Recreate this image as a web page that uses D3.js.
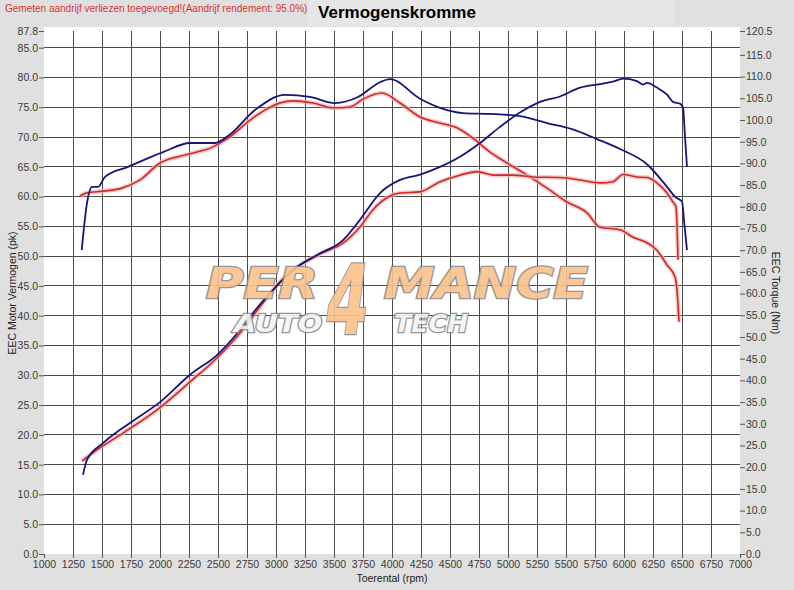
<!DOCTYPE html>
<html>
<head>
<meta charset="utf-8">
<script src="https://cdn.jsdelivr.net/npm/d3@7"></script>
<style>
  body { margin: 0; background: #e0e0e0; }
  svg { display: block; font-family: "Liberation Sans", Arial, sans-serif; }
</style>
</head>
<body>
<script>
// rpm / value pairs
const bluePowerRpm = [1336,1371,1509,1741,2000,2259,2491,2690,2836,2974,3147,3353,3578,3724,3897,4069,4241,4414,4586,4759,4931,5103,5276,5448,5621,5793,5905,5991,6112,6164,6198,6284,6371,6422,6483,6509,6526,6543];
const bluePowerPk  = [13.3,15.8,18.6,22.0,25.5,30.1,33.4,37.6,41.3,44.3,47.7,50.2,52.7,56.1,60.6,62.8,63.7,65.0,66.7,69.0,71.7,74.1,75.9,76.8,78.3,78.9,79.3,79.8,79.4,78.8,79.1,78.3,77.1,75.9,75.6,74.9,70.0,65.0];

const redPowerRpm = [1328,1422,1681,1974,2259,2491,2690,2862,3034,3207,3405,3578,3724,3836,3983,4069,4241,4414,4586,4733,4871,5043,5216,5448,5621,5793,5905,5991,6112,6198,6284,6371,6422,6448,6466];
const redPowerPk  = [15.6,17.0,20.3,24.2,28.9,32.9,37.1,41.5,45.7,48.5,50.6,52.2,54.9,57.8,60.1,60.6,60.8,62.5,63.6,64.2,63.6,63.6,63.3,63.2,62.8,62.3,62.5,63.7,63.3,63.2,62.3,60.6,59.1,58.3,49.4];

const blueTorqueRpm = [1325,1371,1414,1466,1526,1724,2026,2259,2474,2586,2819,3078,3293,3509,3707,3897,3983,4241,4414,4612,4845,5103,5336,5552,5767,5966,6198,6371,6440,6500,6517,6543];
const blueTorqueNm  = [70.0,80.9,84.6,84.6,86.9,89.2,92.6,94.7,94.7,96.3,102.3,105.8,105.3,103.9,105.3,108.7,109.4,104.9,102.8,101.6,101.4,100.9,99.3,97.9,95.6,93.3,89.8,84.6,82.3,81.2,77.0,70.0];

const redTorqueRpm = [1310,1371,1509,1672,1828,2000,2259,2457,2586,2802,3034,3147,3319,3491,3638,3750,3914,4069,4241,4414,4560,4698,4845,4991,5164,5336,5509,5681,5793,5966,6078,6198,6284,6371,6440,6457,6474];
const redTorqueNm  = [82.5,83.2,83.6,84.3,86.2,90.1,92.2,93.8,95.8,100.5,103.9,104.4,103.9,102.8,103.0,104.8,106.2,103.9,100.7,99.3,98.2,95.8,92.6,90.1,87.3,84.3,81.1,78.6,75.3,74.7,73.0,71.7,70.0,66.6,63.8,60.8,53.5];

const rpmTicks = d3.range(1000, 7001, 250);
const pkTicks = d3.range(0, 85.1, 5).concat([87.8]);
const nmTicks = d3.range(0, 115.1, 5).concat([120.5]);

const W = 794, H = 590;
const plotL = 44, plotR = 740, plotT = 31, plotB = 554;

const svg = d3.select("body").append("svg").attr("width", W).attr("height", H);

const x = d3.scaleLinear().domain([1000, 7000]).range([plotL, plotR]);
const yL = d3.scaleLinear().domain([0, 87.8]).range([plotB, plotT]);
const yR = d3.scaleLinear().domain([0, 120.5]).range([plotB, plotT]);

// background + title band
svg.append("rect").attr("width", W).attr("height", H).attr("fill", "#e0e0e0");
svg.append("rect").attr("x", 308).attr("y", 0).attr("width", 367).attr("height", 26).attr("fill", "#e7e6e7");
svg.append("rect").attr("x", plotL).attr("y", 27).attr("width", plotR - plotL).attr("height", plotB - 27).attr("fill", "#fff");

// grid
const grid = svg.append("g").attr("stroke", "#4a4a4a").attr("stroke-width", 1).attr("shape-rendering", "crispEdges");
grid.selectAll(".gx").data(rpmTicks.slice(1, -1)).enter().append("line")
  .attr("x1", d => x(d)).attr("x2", d => x(d)).attr("y1", plotT).attr("y2", plotB);
grid.selectAll(".gy").data(d3.range(5, 85.1, 5)).enter().append("line")
  .attr("x1", plotL).attr("x2", plotR).attr("y1", d => yL(d)).attr("y2", d => yL(d));

// axes
const fmt = d3.format(".1f");
const axL = svg.append("g").attr("transform", `translate(${plotL},0)`)
  .call(d3.axisLeft(yL).tickValues(pkTicks).tickFormat(fmt).tickSize(5).tickPadding(1));
const axR = svg.append("g").attr("transform", `translate(${plotR},0)`)
  .call(d3.axisRight(yR).tickValues(nmTicks).tickFormat(fmt).tickSize(5).tickPadding(1));
const axB = svg.append("g").attr("transform", `translate(0,${plotB})`)
  .call(d3.axisBottom(x).tickValues(rpmTicks).tickFormat(d3.format("d")).tickSize(4).tickPadding(3));

[axL, axR, axB].forEach(a => {
  a.select(".domain").remove();
  a.selectAll(".tick line").attr("stroke", "#555");
  a.selectAll(".tick text").attr("fill", "#3a3a3a").style("font-size", "10.5px");
});

// curves
const lineL = d3.line().x(d => x(d[0])).y(d => yL(d[1])).curve(d3.curveMonotoneX);
const lineR = d3.line().x(d => x(d[0])).y(d => yR(d[1])).curve(d3.curveMonotoneX);
const zip = (a, b) => a.map((v, i) => [v, b[i]]);

const curves = svg.append("g").attr("fill", "none").attr("stroke-linejoin", "round");
[[lineR, zip(redTorqueRpm, redTorqueNm)], [lineL, zip(redPowerRpm, redPowerPk)]].forEach(([gen, data]) => {
  curves.append("path").attr("d", gen(data)).attr("stroke", "#f3b4b4").attr("stroke-width", 4.5).attr("opacity", 0.7);
  curves.append("path").attr("d", gen(data)).attr("stroke", "#cc2a28").attr("stroke-width", 1.6);
});
[[lineR, zip(blueTorqueRpm, blueTorqueNm)], [lineL, zip(bluePowerRpm, bluePowerPk)]].forEach(([gen, data]) => {
  curves.append("path").attr("d", gen(data)).attr("stroke", "#15157a").attr("stroke-width", 1.8);
});

// watermark logo
const logo = svg.append("g").attr("font-style", "italic").attr("font-weight", "bold")
  .attr("fill", "#fbc38a").attr("stroke", "#8c8c8c").attr("stroke-width", 2.5)
  .attr("paint-order", "stroke").attr("opacity", 0.9)
  .style("font-family", "'DejaVu Sans', sans-serif");
logo.append("text").attr("x", 206).attr("y", 298).attr("font-size", 42)
  .attr("textLength", 112).attr("lengthAdjust", "spacingAndGlyphs").text("PER");
logo.append("text").attr("x", 327).attr("y", 334).attr("font-size", 96)
  .attr("textLength", 42).attr("lengthAdjust", "spacingAndGlyphs").text("4");
logo.append("text").attr("x", 384).attr("y", 298).attr("font-size", 42)
  .attr("textLength", 204).attr("lengthAdjust", "spacingAndGlyphs").text("MANCE");
logo.append("text").attr("x", 234).attr("y", 332).attr("font-size", 25).attr("fill", "#f4f4f4")
  .attr("textLength", 88).attr("lengthAdjust", "spacingAndGlyphs").text("AUTO");
logo.append("text").attr("x", 394).attr("y", 332).attr("font-size", 25).attr("fill", "#f4f4f4")
  .attr("textLength", 74).attr("lengthAdjust", "spacingAndGlyphs").text("TECH");

// texts
svg.append("text").attr("x", 5).attr("y", 12).attr("fill", "#d03434").style("font-size", "10px")
  .text("Gemeten aandrijf verliezen toegevoegd!(Aandrijf rendement: 95.0%)");
svg.append("text").attr("x", 397).attr("y", 18).attr("text-anchor", "middle")
  .style("font-size", "17px").style("font-weight", "bold").attr("fill", "#000").text("Vermogenskromme");
svg.append("text").attr("x", 392).attr("y", 582).attr("text-anchor", "middle")
  .style("font-size", "10.5px").attr("fill", "#222").text("Toerental (rpm)");
svg.append("text").attr("transform", "translate(16,293) rotate(-90)").attr("text-anchor", "middle")
  .style("font-size", "10.5px").attr("fill", "#222").text("EEC Motor Vermogen (pk)");
svg.append("text").attr("transform", "translate(772,293) rotate(90)").attr("text-anchor", "middle")
  .style("font-size", "10.5px").attr("fill", "#222").text("EEC Torque (Nm)");
</script>
</body>
</html>
